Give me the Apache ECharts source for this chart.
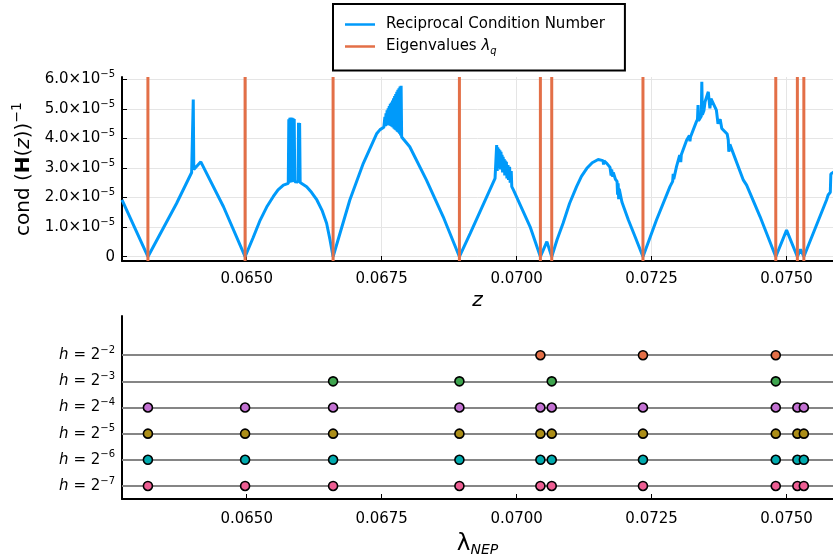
<!DOCTYPE html>
<html><head><meta charset="utf-8">
<script src="https://cdn.jsdelivr.net/npm/echarts@6/dist/echarts.min.js"></script>
<style>html,body{margin:0;padding:0;background:#fff}#c{width:833px;height:558px}</style>
</head><body><div id="c"></div>
<script>
// ---- data ----
const arch1 = [[0.06269,1.92e-5],[0.06317,0],[0.06370,1.80e-5],[0.06398,2.85e-5],[0.06400,2.90e-5],[0.06401,5.32e-5],[0.06402,2.95e-5],[0.06415,3.21e-5],[0.06457,1.69e-5],[0.06497,0]];
const arch2 = [[0.06512,0.65e-5],[0.06525,1.24e-5],[0.06537,1.68e-5],[0.06549,2.03e-5],[0.06558,2.26e-5],[0.06568,2.42e-5],[0.06577,2.48e-5],[0.06578,4.65e-5],[0.06579,2.50e-5],[0.06580,4.70e-5],[0.06581,2.51e-5],[0.06582,4.71e-5],[0.06583,2.52e-5],[0.06584,4.70e-5],[0.06585,2.53e-5],[0.06586,4.68e-5],[0.06587,2.53e-5],[0.06588,4.66e-5],[0.06589,2.54e-5],[0.06595,2.53e-5],[0.06596,4.53e-5],[0.06597,2.52e-5],[0.06598,4.52e-5],[0.06599,2.51e-5],[0.06611,2.37e-5],[0.06620,2.18e-5],[0.06630,1.92e-5],[0.06640,1.55e-5],[0.06648,1.13e-5],[0.06654,0.60e-5],[0.06660,0]];
const arch3 = [[0.06691,1.92e-5],[0.06716,3.16e-5],[0.06741,4.17e-5],[0.06747,4.30e-5],[0.06754,4.38e-5],[0.06756,4.73e-5],[0.06757,4.42e-5],[0.06758,4.85e-5],[0.06759,4.44e-5],[0.06760,4.95e-5],[0.06761,4.45e-5],[0.06762,5.02e-5],[0.06763,4.45e-5],[0.06764,5.10e-5],[0.06765,4.44e-5],[0.06766,5.17e-5],[0.06767,4.42e-5],[0.06768,5.22e-5],[0.06769,4.40e-5],[0.06770,5.28e-5],[0.06771,4.37e-5],[0.06772,5.36e-5],[0.06773,4.33e-5],[0.06774,5.44e-5],[0.06775,4.30e-5],[0.06776,5.50e-5],[0.06777,4.27e-5],[0.06778,5.58e-5],[0.06779,4.23e-5],[0.06780,5.65e-5],[0.06781,4.20e-5],[0.06782,5.70e-5],[0.06783,4.16e-5],[0.06784,5.76e-5],[0.06785,4.10e-5],[0.06786,5.78e-5],[0.06787,4.05e-5],[0.06802,3.72e-5],[0.06833,2.59e-5],[0.06864,1.35e-5],[0.06894,0]];
const arch4 = [[0.06914,0.79e-5],[0.06960,2.65e-5],[0.06963,3.78e-5],[0.06964,2.90e-5],[0.06965,3.70e-5],[0.06966,3.00e-5],[0.06967,3.65e-5],[0.06968,3.10e-5],[0.06969,3.60e-5],[0.06970,2.95e-5],[0.06971,3.55e-5],[0.06972,3.05e-5],[0.06973,3.45e-5],[0.06974,2.85e-5],[0.06975,3.38e-5],[0.06976,2.90e-5],[0.06977,3.30e-5],[0.06978,2.75e-5],[0.06979,3.25e-5],[0.06980,2.80e-5],[0.06981,3.21e-5],[0.06982,2.65e-5],[0.06984,3.10e-5],[0.06985,2.60e-5],[0.06987,3.04e-5],[0.06988,2.50e-5],[0.06990,2.90e-5],[0.06991,2.37e-5],[0.06994,2.26e-5],[0.07025,1.01e-5],[0.07044,0]];
const arch5 = [[0.07056,0.51e-5],[0.07065,0]];
const arch6 = [[0.07075,0.58e-5],[0.07086,1.13e-5],[0.07098,1.80e-5],[0.07111,2.37e-5],[0.07120,2.72e-5],[0.07130,2.99e-5],[0.07140,3.18e-5],[0.07151,3.29e-5],[0.07160,3.25e-5],[0.07161,3.12e-5],[0.07162,3.24e-5],[0.07167,3.16e-5],[0.07173,3.02e-5],[0.07175,2.75e-5],[0.07176,2.95e-5],[0.07178,2.70e-5],[0.07179,2.85e-5],[0.07183,2.62e-5],[0.07186,2.55e-5],[0.07187,2.10e-5],[0.07188,2.48e-5],[0.07189,1.95e-5],[0.07190,2.30e-5],[0.07195,1.85e-5],[0.07200,1.60e-5],[0.07207,1.24e-5],[0.07220,0.65e-5],[0.07234,0]];
const arch7 = [[0.07259,1.24e-5],[0.07284,2.37e-5],[0.07289,2.55e-5],[0.07290,2.80e-5],[0.07291,2.62e-5],[0.07296,3.04e-5],[0.07302,3.44e-5],[0.07304,3.20e-5],[0.07305,3.45e-5],[0.07315,3.95e-5],[0.07320,4.10e-5],[0.07321,3.90e-5],[0.07322,4.05e-5],[0.07333,4.57e-5],[0.07335,4.65e-5],[0.07336,5.13e-5],[0.07337,4.60e-5],[0.07342,4.75e-5],[0.07343,5.92e-5],[0.07344,4.80e-5],[0.07347,4.95e-5],[0.07349,5.24e-5],[0.07355,5.58e-5],[0.07358,5.02e-5],[0.07360,5.35e-5],[0.07370,4.96e-5],[0.07373,4.50e-5],[0.07377,4.65e-5],[0.07380,4.34e-5],[0.07383,4.40e-5],[0.07390,4.15e-5],[0.07392,3.95e-5],[0.07393,3.55e-5],[0.07395,3.80e-5],[0.07420,2.59e-5],[0.07426,2.42e-5],[0.07451,1.35e-5],[0.07480,0]];
const arch8 = [[0.07500,0.90e-5],[0.07520,0],[0.07526,0.25e-5],[0.07532,0]];
const arch9 = [[0.07574,1.92e-5],[0.07577,2.09e-5],[0.07581,2.18e-5],[0.07582,2.80e-5],[0.07590,2.90e-5]];

const eigenvalues = [0.06317,0.06497,0.06660,0.06894,0.07044,0.07065,0.07234,0.07480,0.07520,0.07532];
const eigH2 = [0.07044,0.07234,0.07480];
const eigH3 = [0.06660,0.06894,0.07065,0.07480];
const eigH4 = [0.06317,0.06497,0.06660,0.06894,0.07044,0.07065,0.07234,0.07480,0.07520,0.07532];
const eigH5 = [0.06317,0.06497,0.06660,0.06894,0.07044,0.07065,0.07234,0.07480,0.07520,0.07532];
const eigH6 = [0.06317,0.06497,0.06660,0.06894,0.07044,0.07065,0.07234,0.07480,0.07520,0.07532];
const eigH7 = [0.06317,0.06497,0.06660,0.06894,0.07044,0.07065,0.07234,0.07480,0.07520,0.07532];
const rowExponents = [-7,-6,-5,-4,-3,-2];
const xTicks = [0.0650,0.0675,0.0700,0.0725,0.0750];
const yTicks = [0,1e-5,2e-5,3e-5,4e-5,5e-5,6e-5];
const xMin = 0.06269, xMax = 0.07586;
const yMin = -1.45e-6, yMax = 6.08e-5;

// ---- chart ----
const FONT = 'DejaVu Sans';
const rowCats = rowExponents.map(e => 'h=2^' + e).concat(['']);
const rowData = {'-7': eigH7, '-6': eigH6, '-5': eigH5, '-4': eigH4, '-3': eigH3, '-2': eigH2};
const rowColors = {'-7':'#ED5E93','-6':'#00AAAE','-5':'#AC8E18','-4':'#C371D2','-3':'#3EA44E','-2':'#E36F47'};
const curve = [].concat(arch1, arch2, arch3, arch4, arch5, arch6, arch7, arch8, arch9);
// vertical lines spanning the full y range of the axis, separated by gaps
const eigenLines = [];
eigenvalues.forEach(v => { eigenLines.push([v, yMin], [v, yMax], [v, '-']); });

const chart = echarts.init(document.getElementById('c'), null, {renderer: 'canvas'});
const supRich = {
  n: {fontSize: 15, fontFamily: FONT, color: '#000', lineHeight: 20},
  s: {fontSize: 10, fontFamily: FONT, color: '#000', verticalAlign: 'top', lineHeight: 20},
  i: {fontSize: 15, fontFamily: FONT, color: '#000', fontStyle: 'italic', lineHeight: 20}
};
const scatterSeries = rowExponents.map(e => ({
  type: 'scatter', xAxisIndex: 1, yAxisIndex: 1, z: 5,
  data: rowData[String(e)].map(v => [v, 'h=2^' + e]),
  symbol: 'circle', symbolSize: 9,
  itemStyle: {color: rowColors[String(e)], borderColor: '#000', borderWidth: 1.6, opacity: 1},
  silent: true
}));

chart.setOption({
  animation: false,
  backgroundColor: '#fff',
  legend: {
    left: 333, top: 4, width: 292, orient: 'vertical',
    data: ['Reciprocal Condition Number', 'Eigenvalues'],
    borderColor: '#000', borderWidth: 2,
    padding: [13, 20, 14, 12], itemGap: 7,
    icon: 'rect', itemWidth: 30, itemHeight: 2.5,
    formatter: n => n === 'Eigenvalues' ? '{t|Eigenvalues }{l|λ}{q|q}' : '{t|' + n + '}',
    textStyle: {
      fontFamily: FONT, fontSize: 15, color: '#000', padding: [0,0,0,6],
      rich: {
        t: {fontFamily: FONT, fontSize: 15, color: '#000', lineHeight: 20},
        l: {fontFamily: FONT, fontSize: 15, color: '#000', fontStyle: 'italic', lineHeight: 20},
        q: {fontFamily: FONT, fontSize: 10, color: '#000', fontStyle: 'italic', verticalAlign: 'bottom', lineHeight: 20}
      }
    }
  },
  grid: [
    {left: 122, right: 0, top: 77, height: 184},
    {left: 122, right: 0, top: 316, height: 184}
  ],
  xAxis: [
    {
      type: 'value', gridIndex: 0, min: xMin, max: xMax,
      axisLine: {show: true, onZero: false, lineStyle: {color: '#000', width: 2}},
      axisTick: {show: true, inside: true, length: 5, customValues: xTicks, lineStyle: {color: '#000', width: 1}},
      axisLabel: {customValues: xTicks, formatter: v => v.toFixed(4), fontFamily: FONT, fontSize: 15, color: '#000', margin: 11},
      splitLine: {show: true, lineStyle: {color: '#e5e5e5', width: 1}},
      name: 'z', nameLocation: 'middle', nameGap: 30,
      nameTextStyle: {fontFamily: FONT, fontSize: 20, fontStyle: 'italic', color: '#000'}
    },
    {
      type: 'value', gridIndex: 1, min: xMin, max: xMax,
      axisLine: {show: true, onZero: false, lineStyle: {color: '#000', width: 2}},
      axisTick: {show: true, inside: true, length: 5, customValues: xTicks, lineStyle: {color: '#000', width: 1}},
      axisLabel: {customValues: xTicks, formatter: v => v.toFixed(4), fontFamily: FONT, fontSize: 15, color: '#000', margin: 13},
      splitLine: {show: false},
      name: '{l|λ}{s|NEP}', nameLocation: 'middle', nameGap: 32,
      nameTextStyle: {
        rich: {
          l: {fontFamily: FONT, fontSize: 23, color: '#000', lineHeight: 26},
          s: {fontFamily: FONT, fontSize: 14, fontStyle: 'italic', color: '#000', verticalAlign: 'bottom', lineHeight: 26}
        }
      }
    }
  ],
  yAxis: [
    {
      type: 'value', gridIndex: 0, min: yMin, max: yMax,
      axisLine: {show: true, onZero: false, lineStyle: {color: '#000', width: 2}},
      axisTick: {show: true, inside: true, length: 5, customValues: yTicks, lineStyle: {color: '#000', width: 1}},
      axisLabel: {
        customValues: yTicks, margin: 7,
        formatter: v => Math.abs(v) < 1e-12 ? '{n|0}' : '{n|' + (v / 1e-5).toFixed(1) + '×10}{s|−5}',
        rich: supRich
      },
      splitLine: {show: true, lineStyle: {color: '#e5e5e5', width: 1}},
      name: '{t|cond (}{b|H}{t|(}{i|z}{t|))}{s|−1}', nameLocation: 'middle', nameRotate: 90, nameGap: 67,
      nameTextStyle: {
        rich: {
          t: {fontFamily: FONT, fontSize: 20, color: '#000', lineHeight: 26},
          b: {fontFamily: FONT, fontSize: 20, fontWeight: 'bold', color: '#000', lineHeight: 26},
          i: {fontFamily: FONT, fontSize: 20, fontStyle: 'italic', color: '#000', lineHeight: 26},
          s: {fontFamily: FONT, fontSize: 14, color: '#000', verticalAlign: 'top', lineHeight: 26}
        }
      }
    },
    {
      type: 'category', gridIndex: 1, data: rowCats, boundaryGap: true,
      axisLine: {show: true, onZero: false, lineStyle: {color: '#000', width: 2}},
      axisTick: {show: false},
      axisLabel: {
        margin: 7,
        formatter: v => v ? '{i|h}{n| = 2}{s|−' + Math.abs(Number(v.split('^')[1])) + '}' : '',
        rich: supRich
      },
      splitLine: {show: false}
    }
  ],
  series: [
    {
      type: 'line', name: 'Reciprocal Condition Number', xAxisIndex: 0, yAxisIndex: 0, z: 2,
      data: curve, symbol: 'none', showSymbol: false, clip: true,
      lineStyle: {color: '#009AFA', width: 3}, itemStyle: {color: '#009AFA'}
    },
    {
      type: 'line', name: 'Eigenvalues', xAxisIndex: 0, yAxisIndex: 0, z: 3,
      data: eigenLines, symbol: 'none', showSymbol: false, connectNulls: false, clip: true,
      lineStyle: {color: '#E36F47', width: 3}, itemStyle: {color: '#E36F47'}
    },
    {
      type: 'line', name: 'rows', xAxisIndex: 1, yAxisIndex: 1, z: 1,
      data: [], symbol: 'none',
      markLine: {
        silent: true, symbol: ['none', 'none'], label: {show: false}, animation: false,
        lineStyle: {color: '#858585', width: 2, type: 'solid'},
        emphasis: {disabled: true},
        data: rowExponents.map(e => ({yAxis: 'h=2^' + e}))
      }
    }
  ].concat(scatterSeries)
});
</script>
</body></html>
